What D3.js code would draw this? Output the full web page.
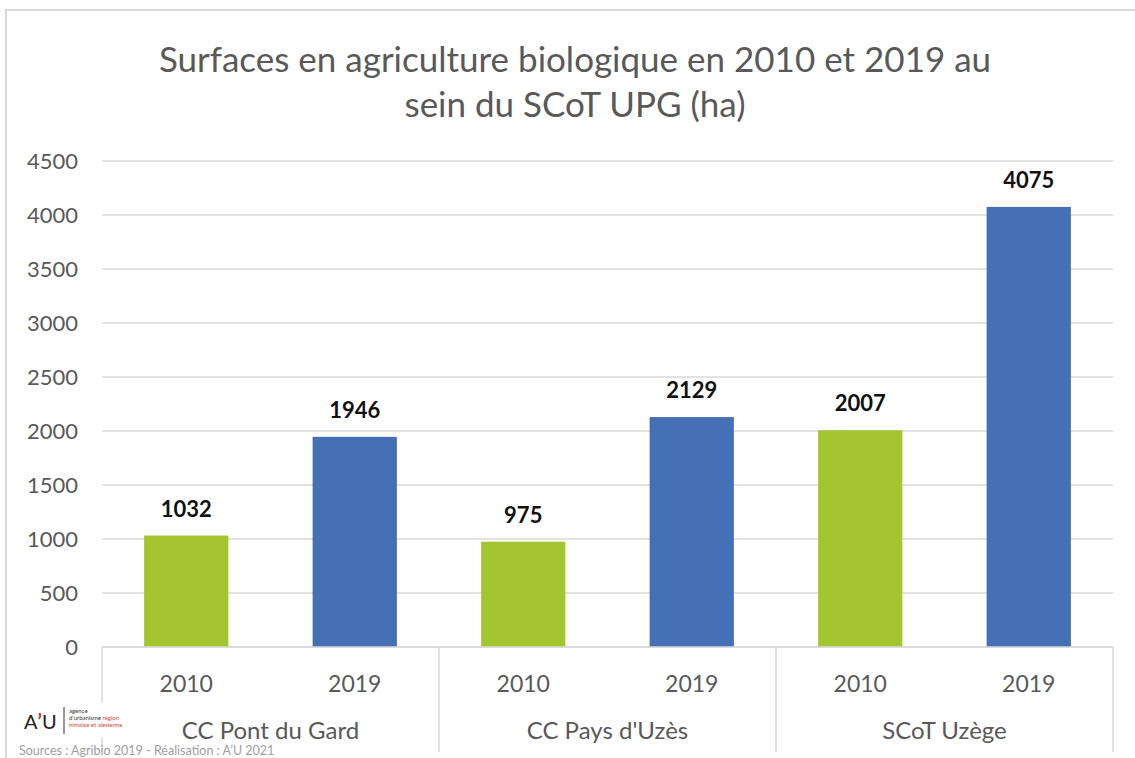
<!DOCTYPE html>
<html><head><meta charset="utf-8">
<script src="https://cdn.jsdelivr.net/npm/d3@7/dist/d3.min.js"></script>
<style>body{margin:0;background:#fff}svg{display:block}text{font-family:Lato,"Open Sans",sans-serif}</style>
</head><body><svg id="c" width="1135" height="758"></svg>
<script>
const groups = ["CC Pont du Gard", "CC Pays d'Uzès", "SCoT Uzège"];
const years = ["2010", "2019"];
const values2010 = [1032, 975, 2007];
const values2019 = [1946, 2129, 4075];
const yTicks = [0, 500, 1000, 1500, 2000, 2500, 3000, 3500, 4000, 4500];
const colors = {"2010": "#a2c530", "2019": "#4570b6"};

const svg = d3.select("#c");
const L = 102, R = 1113, T = 161, B = 647;
const y = d3.scaleLinear().domain([0, 4500]).range([B, T]);
const gx = d3.scaleBand().domain(groups).range([L, R]).padding(0);
const sx = d3.scaleBand().domain(years).range([0, gx.bandwidth()]).paddingInner(0.5).paddingOuter(0.25);

// frame
svg.append("rect").attr("x", 6).attr("y", 10).attr("width", 1140).attr("height", 760)
  .attr("fill", "none").attr("stroke", "#d9d9d9").attr("stroke-width", 2);

// title
const title = svg.append("text").attr("x", 575).attr("text-anchor", "middle")
  .attr("fill", "#595959").style("font-size", "35px");
title.append("tspan").attr("x", 575).attr("y", 72).text("Surfaces en agriculture biologique en 2010 et 2019 au");
title.append("tspan").attr("x", 575).attr("y", 117).text("sein du SCoT UPG (ha)");

// grid
svg.append("g").selectAll("line").data(yTicks).join("line")
  .attr("x1", L).attr("x2", R).attr("y1", d => y(d)).attr("y2", d => y(d))
  .attr("stroke", "#d9d9d9").attr("stroke-width", 1.5);

// y axis labels
const yAxis = d3.axisLeft(y).tickValues(yTicks).tickFormat(d3.format("d")).tickSize(0).tickPadding(0);
const ya = svg.append("g").attr("transform", `translate(78,0)`).call(yAxis);
ya.select(".domain").remove();
ya.selectAll("text").attr("fill", "#595959").style("font-size", "22px").attr("dy", "0.35em")
  .style("font-family", "Lato,sans-serif");

// bars
const data = [];
groups.forEach((g, i) => {
  data.push({g, yr: "2010", v: values2010[i]});
  data.push({g, yr: "2019", v: values2019[i]});
});
svg.append("g").selectAll("rect").data(data).join("rect")
  .attr("x", d => gx(d.g) + sx(d.yr))
  .attr("width", sx.bandwidth())
  .attr("y", d => y(d.v))
  .attr("height", d => y(0) - y(d.v))
  .attr("fill", d => colors[d.yr]);

svg.append("g").selectAll("text").data(data).join("text")
  .attr("x", d => gx(d.g) + sx(d.yr) + sx.bandwidth() / 2)
  .attr("y", d => y(d.v) - 19)
  .attr("text-anchor", "middle").attr("font-weight", "bold")
  .attr("fill", "#111").style("font-size", "22px")
  .text(d => d.v);

// baseline & separators
svg.append("line").attr("x1", L).attr("x2", R).attr("y1", B).attr("y2", B)
  .attr("stroke", "#d9d9d9").attr("stroke-width", 1.5);
svg.append("g").selectAll("line").data([L, gx(groups[1]), gx(groups[2]), R]).join("line")
  .attr("x1", d => d).attr("x2", d => d).attr("y1", B).attr("y2", 752)
  .attr("stroke", "#d9d9d9").attr("stroke-width", 1.5);

// year labels
svg.append("g").selectAll("text").data(data).join("text")
  .attr("x", d => gx(d.g) + sx(d.yr) + sx.bandwidth() / 2)
  .attr("y", 692).attr("text-anchor", "middle")
  .attr("fill", "#595959").style("font-size", "23px").text(d => d.yr);

// group labels
svg.append("g").selectAll("text").data(groups).join("text")
  .attr("x", d => gx(d) + gx.bandwidth() / 2).attr("y", 739)
  .attr("text-anchor", "middle").attr("fill", "#595959").style("font-size", "24px").text(d => d);

// logo
const lg = svg.append("g");
lg.append("rect").attr("x", 18).attr("y", 703).attr("width", 120).attr("height", 34).attr("fill", "#fff");
const au = lg.append("text").attr("x", 24).attr("y", 729).attr("fill", "#222").style("font-size", "20px");
au.append("tspan").text("A");
au.append("tspan").attr("fill", "#c0392b").attr("font-weight", "bold").text("’");
au.append("tspan").text("U");
lg.append("line").attr("x1", 64).attr("x2", 64).attr("y1", 707).attr("y2", 734).attr("stroke", "#333");
const small = lg.append("text").attr("x", 69).style("font-size", "6px").attr("fill", "#333");
small.append("tspan").attr("x", 69).attr("y", 713).text("agence");
const t2 = small.append("tspan").attr("x", 69).attr("y", 720);
t2.append("tspan").text("d’urbanisme ");
t2.append("tspan").attr("fill", "#d04a3a").text("région");
small.append("tspan").attr("x", 69).attr("y", 727).attr("fill", "#d04a3a").text("nîmoise et alésienne");

svg.append("text").attr("x", 19).attr("y", 755).attr("fill", "#a0a0a0")
  .style("font-size", "12.5px").text("Sources : Agribio 2019 - Réalisation : A’U 2021");
</script></body></html>
